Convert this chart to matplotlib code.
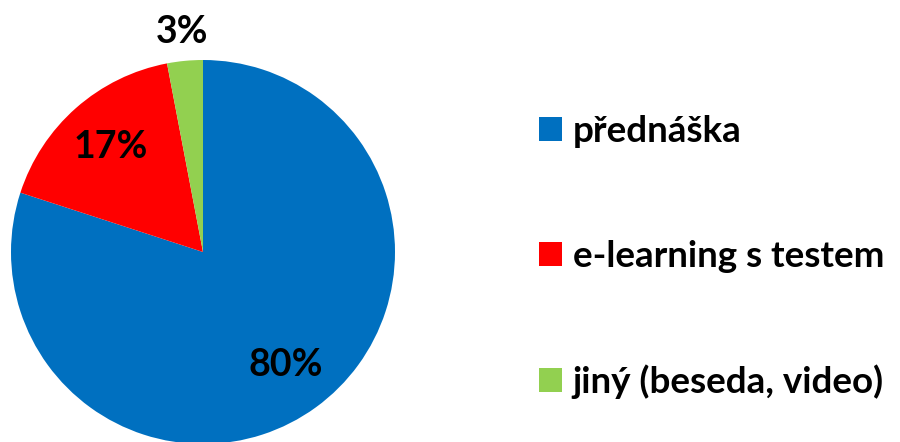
import numpy as np
import matplotlib
matplotlib.use("Agg")
import matplotlib.pyplot as plt

# data
categories = ["přednáška", "e-learning s testem", "jiný (beseda, video)"]
values = [80, 17, 3]
colors = ["#0070C0", "#FF0000", "#92D050"]

plt.rcParams["font.family"] = ["Lato", "DejaVu Sans"]

fig = plt.figure(figsize=(9, 4.42), dpi=100)

# pie axes: center ~ (203, 252) px, radius ~192 px
ax = fig.add_axes([11 / 900, (442 - 444) / 442, 384 / 900, 384 / 442])

wedges, texts, autotexts = ax.pie(
    values,
    colors=colors,
    startangle=90,
    counterclock=False,
    autopct=lambda p: f"{p:.0f}%",
    pctdistance=0.73,
    textprops=dict(fontsize=27, fontweight="bold", color="black"),
)
ax.set_xlim(-1, 1)
ax.set_ylim(-1, 1)

# small slice label sits outside the pie
w = wedges[2]
mid = np.deg2rad((w.theta1 + w.theta2) / 2)
autotexts[2].set_position((1.15 * np.cos(mid), 1.15 * np.sin(mid)))

# legend
fig.legend(
    wedges,
    categories,
    loc="upper left",
    bbox_to_anchor=(524 / 900, 1 - 100 / 442),
    frameon=False,
    prop=dict(size=26.5, weight="bold"),
    handlelength=0.62,
    handleheight=0.62,
    handletextpad=0.3,
    labelspacing=2.5,
    borderaxespad=0,
)

fig.savefig("out.png", dpi=100)
